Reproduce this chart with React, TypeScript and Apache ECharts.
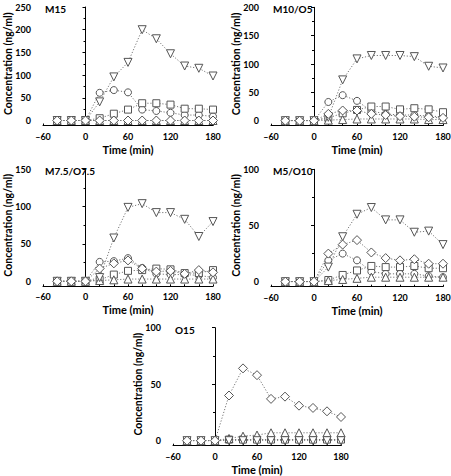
import React, { useEffect, useRef } from "react";
import * as echarts from "echarts";

const times = [-40, -20, 0, 20, 40, 60, 80, 100, 120, 140, 160, 180];
const xTicks = [-60, 0, 60, 120, 180];

const panelTitles = ["M15", "M10/O5", "M7.5/O7.5", "M5/O10", "O15"];
const panelYMax = [250, 200, 150, 100, 100];
const panelYStep = [50, 50, 50, 50, 50];

// Series per panel: circle, square, triangle-up, triangle-down, diamond
const m15Circle = [0, 0, 0, 61, 67, 62, 24, 21, 17, 12, 12, 9];
const m15Square = [0, 0, 0, 5, 15, 24, 38, 38, 35, 26, 26, 24];
const m15TriUp = [0, 0, 0, 0, 0, 0, 0, 0, 0, 0, 0, 0];
const m15TriDown = [0, 0, 0, 41, 96, 128, 200, 180, 147, 120, 115, 98];
const m15Diamond = [0, 0, 0, 0, 0, 0, 0, 0, 0, 0, 0, 0];

const m10Circle = [0, 0, 0, 33, 45, 35, 17, 12, 10, 10, 8, 7];
const m10Square = [0, 0, 0, 5, 13, 19, 25, 25, 20, 22, 20, 15];
const m10TriUp = [0, 0, 0, 1, 2, 3, 3, 3, 3, 3, 2, 2];
const m10TriDown = [0, 0, 0, 6, 72, 109, 115, 115, 115, 113, 96, 93];
const m10Diamond = [0, 0, 0, 12, 18, 18, 12, 10, 8, 7, 6, 5];

const m75Circle = [0, 0, 0, 26, 27, 31, 18, 10, 9, 9, 8, 5];
const m75Square = [0, 0, 0, 2, 9, 14, 15, 17, 16, 11, 11, 15];
const m75TriUp = [0, 0, 0, 1, 2, 3, 3, 3, 3, 3, 3, 3];
const m75TriDown = [0, 0, 0, 5, 58, 99, 104, 92, 92, 83, 60, 80];
const m75Diamond = [0, 0, 0, 17, 24, 28, 17, 13, 14, 10, 15, 12];

const m5Circle = [0, 0, 0, 19, 25, 19, 9, 7, 7, 7, 5, 4];
const m5Square = [0, 0, 0, 1.5, 6, 10, 14, 13, 13, 14, 12, 12];
const m5TriUp = [0, 0, 0, 1, 2, 3, 4, 4, 4, 4, 4, 4];
const m5TriDown = [0, 0, 0, 13, 40, 60, 66, 55, 55, 44, 45, 33];
const m5Diamond = [0, 0, 0, 25, 33, 37, 26, 21, 19, 20, 16, 16];

const o15Circle = [0, 0, 0, 1, 1, 1, 1, 1, 1, 1, 1, 1];
const o15Square = [0, 0, 0, 1, 1, 1, 1, 1, 1, 1, 1, 1];
const o15TriUp = [0, 0, 0, 2, 4, 5, 7, 7, 7, 7, 7, 7];
const o15TriDown = [0, 0, 0, 0, 0, 0, 0, 0, 0, 0, 0, 0];
const o15Diamond = [0, 0, 0, 40, 64, 58, 37, 39, 31, 29, 26, 21];

const panelData = [
  [m15Circle, m15Square, m15TriUp, m15TriDown, m15Diamond],
  [m10Circle, m10Square, m10TriUp, m10TriDown, m10Diamond],
  [m75Circle, m75Square, m75TriUp, m75TriDown, m75Diamond],
  [m5Circle, m5Square, m5TriUp, m5TriDown, m5Diamond],
  [o15Circle, o15Square, o15TriUp, o15TriDown, o15Diamond],
];

const W = 451;
const H = 476;
// grid boxes: [left (x=-60), top (y=max), width, height]
const grids = [
  [43, 7, 170, 113.5],
  [271, 7.3, 172, 113.4],
  [43, 169.3, 170, 112],
  [271, 169.3, 172, 112.4],
  [173, 327.7, 168, 113],
];

const symbolDefs = [
  { symbol: "circle", size: 7, rotate: 0 },
  { symbol: "rect", size: 7, rotate: 0 },
  { symbol: "triangle", size: 8, rotate: 0 },
  { symbol: "triangle", size: 8, rotate: 180 },
  { symbol: "diamond", size: 9, rotate: 0 },
];

const FONT = "Lato";
const STROKE = "#555";

export default function App() {
  const ref = useRef<HTMLDivElement>(null);
  useEffect(() => {
    if (!ref.current) return;
    const chart = echarts.init(ref.current, undefined, { renderer: "svg" });
    const grid: any[] = [];
    const xAxis: any[] = [];
    const yAxis: any[] = [];
    const series: any[] = [];
    const graphic: any[] = [];
    grids.forEach((g, i) => {
      const [left, top, w, h] = g;
      grid.push({ left, top, width: w, height: h, containLabel: false, outerBoundsMode: "none" });
      xAxis.push({
        type: "value",
        gridIndex: i,
        min: -60,
        max: 180,
        interval: 60,
        offset: 5,
        name: "Time (min)",
        nameLocation: "middle",
        nameGap: 18,
        nameTextStyle: { fontFamily: FONT, fontWeight: "bold", fontSize: 11, color: "#000" },
        axisLine: { show: true, onZero: false, lineStyle: { color: "#000", width: 1 } },
        axisTick: { show: true, inside: true, length: 2, lineStyle: { color: "#000" } },
        minorTick: { show: true, splitNumber: 3, length: 2, lineStyle: { color: "#000" } },
        axisLabel: {
          fontFamily: FONT,
          fontWeight: "bold",
          fontSize: 9,
          color: "#000",
          margin: 6,
          formatter: (v: number) => (xTicks.includes(v) ? String(v).replace("-", "\u2013") : ""),
        },
        splitLine: { show: false },
      });
      yAxis.push({
        type: "value",
        gridIndex: i,
        min: 0,
        max: panelYMax[i],
        interval: panelYStep[i],
        offset: 7,
        name: "Concentration (ng/ml)",
        nameLocation: "middle",
        nameGap: 23,
        nameMoveOverlap: false,
        nameTextStyle: { fontFamily: FONT, fontWeight: "bold", fontSize: 10.5, color: "#000" },
        axisLine: { show: true, lineStyle: { color: "#000", width: 1 } },
        axisTick: { show: true, inside: false, length: 3, lineStyle: { color: "#000" } },
        minorTick: { show: true, splitNumber: 2, length: 2, lineStyle: { color: "#000" } },
        axisLabel: {
          fontFamily: FONT,
          fontWeight: "bold",
          fontSize: 9,
          color: "#000",
          margin: 5,
          showMaxLabel: true,
          showMinLabel: true,
        },
        splitLine: { show: false },
      });
      graphic.push({
        type: "text",
        x: left + 2,
        y: top - 3,
        z: 100,
        style: {
          text: panelTitles[i],
          font: `bold 10px ${FONT}`,
          fill: "#000",
        },
      });
      panelData[i].forEach((vals, k) => {
        const sd = symbolDefs[k];
        series.push({
          type: "line",
          xAxisIndex: i,
          yAxisIndex: i,
          data: times.map((t, j) => [t, vals[j]]),
          symbol: sd.symbol,
          symbolSize: sd.size,
          symbolRotate: sd.rotate,
          showAllSymbol: true,
          lineStyle: { color: "#777", width: 1, type: [1.2, 1.8] },
          itemStyle: { color: "#fff", borderColor: STROKE, borderWidth: 1 },
          z: 2 + k,
        });
      });
    });
    chart.setOption({
      animation: false,
      backgroundColor: "#fff",
      graphic,
      grid,
      xAxis,
      yAxis,
      series,
    });
    return () => chart.dispose();
  }, []);
  return (
    <div
      ref={ref}
      style={{ position: "fixed", left: 0, top: 0, width: W, height: H }}
    />
  );
}
